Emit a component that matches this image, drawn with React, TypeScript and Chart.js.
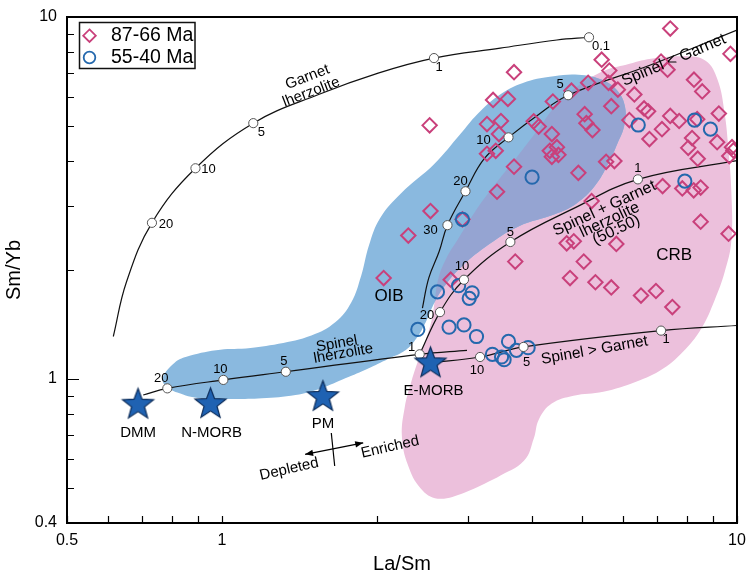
import React, { useEffect, useRef } from 'react';
import { Chart, registerables } from 'chart.js';

Chart.register(...registerables);

const FONT = '"Liberation Sans", Arial, Helvetica, sans-serif';

// ---------- axis tick labels ----------
const X_TICK_LABELS = [0.5, 1, 10];
const Y_TICK_LABELS = [0.4, 1, 10];

// ---------- samples [La/Sm, Sm/Yb] ----------
const SAMPLES_87_66 = [
  [7.42, 9.29], [9.71, 7.91], [5.46, 7.62], [3.69, 7.04], [2.53, 5.02], [3.36, 5.90], [3.59, 5.94],
  [4.39, 5.84], [4.77, 6.26], [5.14, 6.58], [5.65, 7.11], [5.63, 6.58], [5.87, 6.30], [6.32, 6.11],
  [5.70, 5.67], [5.06, 5.39], [5.10, 5.09], [5.24, 4.87], [6.60, 5.59], [6.72, 5.49], [7.12, 7.53],
  [7.33, 7.15], [8.25, 6.71], [8.56, 6.23], [6.18, 5.19], [7.42, 5.33], [7.72, 5.16], [7.15, 4.90],
  [8.37, 5.22], [9.22, 5.41], [6.76, 4.60], [8.18, 4.63], [8.04, 4.35], [9.15, 4.51], [9.78, 4.37],
  [9.84, 4.28], [9.66, 4.13], [4.37, 4.75], [4.47, 4.37], [4.50, 4.16], [4.37, 4.11], [4.33, 4.27],
  [5.57, 3.98], [5.78, 4.00], [8.39, 4.06], [3.48, 5.16], [3.27, 5.06], [3.45, 4.75], [3.27, 4.19],
  [3.40, 4.27], [4.03, 5.15], [4.12, 4.98], [3.69, 3.86], [3.42, 3.29], [2.54, 2.91], [2.30, 2.49],
  [2.93, 2.76], [2.06, 1.90], [3.71, 2.11], [2.78, 1.88], [4.92, 3.71], [7.17, 3.41], [7.83, 3.36],
  [8.24, 3.32], [8.50, 3.38], [5.22, 3.10], [8.50, 2.72], [9.63, 2.52], [4.67, 2.37], [4.82, 2.40],
  [5.83, 2.36], [5.04, 2.11], [4.74, 1.90], [5.31, 1.85], [5.70, 1.79], [6.51, 1.70], [6.96, 1.75],
  [7.49, 1.58],
];

const SAMPLES_55_40 = [
  [4.00, 3.61], [2.93, 2.76], [2.62, 1.74], [2.88, 1.81], [3.06, 1.73], [3.02, 1.67], [2.40, 1.37],
  [2.76, 1.39], [2.95, 1.41], [3.12, 1.31], [3.35, 1.17], [3.49, 1.15], [3.53, 1.13], [3.60, 1.27],
  [3.73, 1.20], [3.93, 1.22], [6.43, 5.03], [8.27, 5.19], [8.88, 4.90], [7.92, 3.52],
];

// ---------- mantle reservoirs ----------
const RESERVOIR_NAMES = ['DMM', 'N-MORB', 'PM', 'E-MORB'];
const RESERVOIR_VALUES = [[0.687, 0.857], [0.95, 0.86], [1.57, 0.90], [2.54, 1.115]];

// ---------- melting curves ----------
const GARNET_LHZ_CURVE = [
  [0.615, 1.31], [0.652, 1.85], [0.731, 2.70], [0.888, 3.82], [1.15, 5.09], [1.54, 6.11],
  [2.01, 7.0], [2.58, 7.70], [3.47, 8.20], [4.47, 8.64], [5.16, 8.79],
];
const SPINEL_LHZ_CURVE = [[0.703, 0.903], [0.783, 0.942], [1.006, 0.994], [1.33, 1.047], [2.42, 1.17], [2.99, 1.20]];
const SPL_LT_GRT_CURVE = [
  [2.45, 1.57], [2.52, 1.90], [2.64, 2.25], [2.74, 2.66], [2.97, 3.30], [3.23, 4.06], [3.60, 4.65],
  [4.12, 5.38], [4.70, 6.08], [6.81, 7.38], [10, 9.2],
];
const SPL_GRT_5050_CURVE = [[2.42, 1.17], [2.65, 1.53], [2.95, 1.88], [3.63, 2.39], [4.82, 2.96], [6.42, 3.56], [10, 4.01]];
const SPL_GT_GRT_CURVE = [[2.54, 1.108], [3.17, 1.15], [3.85, 1.226], [7.12, 1.36], [10, 1.405]];

// ---------- melt fractions (%) marked on the curves ----------
const GARNET_LHZ_F = [[0.731, 2.70], [0.888, 3.82], [1.15, 5.09], [2.58, 7.70], [5.16, 8.79]];
const GARNET_LHZ_F_TEXT = ['20', '10', '5', '1', '0.1'];
const SPINEL_LHZ_F = [[0.783, 0.942], [1.006, 0.994], [1.33, 1.047], [2.42, 1.17]];
const SPINEL_LHZ_F_TEXT = ['20', '10', '5', '1'];
const SPL_LT_GRT_F = [[2.74, 2.66], [2.97, 3.30], [3.60, 4.65], [4.70, 6.08]];
const SPL_LT_GRT_F_TEXT = ['30', '20', '10', '5'];
const SPL_GRT_5050_F = [[2.65, 1.53], [2.95, 1.88], [3.63, 2.39], [6.42, 3.56]];
const SPL_GRT_5050_F_TEXT = ['20', '10', '5', '1'];
const SPL_GT_GRT_F = [[3.17, 1.15], [3.85, 1.226], [7.12, 1.36]];
const SPL_GT_GRT_F_TEXT = ['10', '5', '1'];

// ---------- fields ----------
const OIB_FIELD = [
  [1.113, 1.213], [1.288, 1.251], [1.491, 1.319], [1.659, 1.435], [1.782, 1.627], [1.863, 1.928],
  [1.930, 2.344], [2.027, 2.780], [2.225, 3.254], [2.586, 3.930], [2.903, 4.748], [3.131, 5.386],
  [3.467, 6.107], [3.909, 6.631], [4.406, 6.865], [4.923, 6.930], [5.452, 6.715], [5.853, 6.262],
  [6.064, 5.627], [6.037, 4.994], [5.853, 4.458], [5.624, 3.930], [5.285, 3.401], [4.879, 3.055],
  [4.426, 2.851], [3.772, 2.643], [3.244, 2.315], [2.890, 2.015], [2.692, 1.788], [2.586, 1.627],
  [2.486, 1.435], [2.388, 1.297], [2.275, 1.203], [2.100, 1.136], [1.922, 1.069], [1.735, 1.004],
  [1.559, 0.943], [1.389, 0.903], [1.195, 0.884], [1.032, 0.880], [0.904, 0.884], [0.819, 0.917],
  [0.777, 0.958], [0.767, 1.008], [0.809, 1.108], [0.853, 1.151], [0.974, 1.200], [1.113, 1.213],
];
const CRB_FIELD = [
  [3.421, 0.534], [2.955, 0.485], [2.621, 0.467], [2.431, 0.498], [2.295, 0.579], [2.235, 0.695],
  [2.265, 0.839], [2.326, 0.971], [2.399, 1.115], [2.486, 1.281], [2.553, 1.453], [2.586, 1.627],
  [2.633, 1.904], [2.728, 2.160], [2.865, 2.419], [3.131, 2.961], [3.421, 3.509], [3.739, 4.107],
  [4.086, 4.839], [4.466, 5.734], [4.945, 6.501], [5.524, 7.107], [6.091, 7.380], [6.807, 7.665],
  [7.880, 7.786], [8.690, 7.569], [9.165, 6.715], [9.455, 5.454], [9.621, 4.320], [9.750, 3.294],
  [9.750, 2.404], [9.455, 1.965], [9.044, 1.648], [8.536, 1.382], [7.950, 1.210], [7.179, 1.067],
  [6.368, 0.983], [5.500, 0.922], [4.815, 0.899], [4.367, 0.855], [4.123, 0.773], [4.032, 0.686],
  [3.857, 0.594], [3.421, 0.534],
];

// ---------- annotation layout (pixel offsets, angles, sizes) ----------
const MELT_GROUPS = [
  { marks: GARNET_LHZ_F, texts: GARNET_LHZ_F_TEXT, offsets: [[14, 2], [13, 1], [8, 9], [5, 9], [12, 9]] },
  { marks: SPINEL_LHZ_F, texts: SPINEL_LHZ_F_TEXT, offsets: [[-6, -10], [-3, -10], [-2, -10], [-8, -7]] },
  { marks: SPL_LT_GRT_F, texts: SPL_LT_GRT_F_TEXT, offsets: [[-17, 5], [-5, -10], [-25, 3], [-8, -11]] },
  { marks: SPL_GRT_5050_F, texts: SPL_GRT_5050_F_TEXT, offsets: [[-13, 3], [-2, -13], [0, -10], [0, -11]] },
  { marks: SPL_GT_GRT_F, texts: SPL_GT_GRT_F_TEXT, offsets: [[-3, 13], [3, 15], [5, 9]] },
];
const RESERVOIR_LABEL_OFFSETS = [[0, 30], [1, 30], [0, 28], [3, 29]];

const TEXT_NOTES = [
  { text: 'Garnet', at: [1.465, 6.82], size: 15, angle: -21 },
  { text: 'lherzolite', at: [1.49, 6.2], size: 15, angle: -21 },
  { text: 'Spinel < Garnet', at: [7.54, 7.6], size: 16, angle: -23 },
  { text: 'Spinel + Garnet', at: [5.53, 2.96], size: 16, angle: -25 },
  { text: 'lherzolite', at: [5.66, 2.75], size: 16, angle: -25 },
  { text: '(50:50)', at: [5.83, 2.58], size: 16, angle: -25 },
  { text: 'Spinel', at: [1.67, 1.25], size: 15, angle: -10 },
  { text: 'lherzolite', at: [1.72, 1.175], size: 15, angle: -10 },
  { text: 'Spinel > Garnet', at: [5.29, 1.2], size: 15.5, angle: -10 },
  { text: 'OIB', at: [2.11, 1.69], size: 17, angle: 0 },
  { text: 'CRB', at: [7.55, 2.2], size: 17, angle: 0 },
  { text: 'Depleted', at: [1.35, 0.563], size: 15, angle: -13 },
  { text: 'Enriched', at: [2.12, 0.648], size: 15, angle: -13 },
];
const TREND_ARROW = { from: [1.45, 0.619], to: [1.88, 0.666] };
const TREND_DIVIDER = { from: [1.63, 0.709], to: [1.655, 0.575] };

// ---------- colours ----------
const DIAMOND_COLOR = '#c9407b';
const CIRCLE_COLOR = '#2468ad';
const OIB_COLOR = '#8ab9df';
const CRB_COLOR = '#ecc0dc';
const OVERLAP_COLOR = '#95a4d2';

const pts = (a: number[][]) => a.map(([x, y]) => ({ x, y }));

function makeStar(r: number, fill: string, stroke: string) {
  const c = document.createElement('canvas');
  const s = Math.ceil(r * 2 + 4);
  c.width = s;
  c.height = s;
  const g = c.getContext('2d')!;
  g.beginPath();
  for (let i = 0; i < 10; i++) {
    const ang = -Math.PI / 2 + (i * Math.PI) / 5;
    const rr = i % 2 === 0 ? r : r * 0.42;
    const px = s / 2 + rr * Math.cos(ang);
    const py = s / 2 + 1.5 + rr * Math.sin(ang);
    if (i === 0) g.moveTo(px, py);
    else g.lineTo(px, py);
  }
  g.closePath();
  g.fillStyle = fill;
  g.fill();
  g.lineWidth = 1.2;
  g.strokeStyle = stroke;
  g.stroke();
  return c;
}

const tickFormatter = (allowed: number[]) => (v: any) => {
  const n = Number(v);
  return allowed.some((a) => Math.abs(a - n) < 1e-9) ? String(n) : '';
};

const isWholeSignificand = (v: number) => {
  const e = Math.floor(Math.log10(v) + 1e-9);
  const m = v / Math.pow(10, e);
  return Math.abs(m - Math.round(m)) < 1e-6;
};

const zeroPadding = (s: any) => {
  s.paddingTop = 0;
  s.paddingBottom = 0;
  s.paddingLeft = 0;
  s.paddingRight = 0;
};

const OIB_INDEX = 9;
const CRB_INDEX = 10;

const overlapPlugin = {
  id: 'overlap',
  afterDatasetDraw(chart: any, args: any) {
    if (args.index !== OIB_INDEX) return;
    const ctx = chart.ctx;
    const crb = chart.getDatasetMeta(CRB_INDEX).dataset;
    const oib = chart.getDatasetMeta(OIB_INDEX).dataset;
    if (!crb || !oib) return;
    ctx.save();
    const a = chart.chartArea;
    ctx.beginPath();
    ctx.rect(a.left, a.top, a.right - a.left, a.bottom - a.top);
    ctx.clip();
    ctx.beginPath();
    crb.path(ctx);
    ctx.closePath();
    ctx.clip();
    ctx.beginPath();
    oib.path(ctx);
    ctx.closePath();
    ctx.fillStyle = OVERLAP_COLOR;
    ctx.fill();
    ctx.restore();
  },
};

const annotationPlugin = {
  id: 'annotations',
  afterDatasetsDraw(chart: any) {
    const { ctx } = chart;
    const sx = chart.scales.x;
    const sy = chart.scales.y;
    const px = (v: number) => sx.getPixelForValue(v);
    const py = (v: number) => sy.getPixelForValue(v);
    ctx.save();
    ctx.fillStyle = '#000';
    ctx.strokeStyle = '#000';
    ctx.textAlign = 'center';
    ctx.textBaseline = 'middle';

    for (const n of TEXT_NOTES) {
      ctx.save();
      ctx.translate(px(n.at[0]), py(n.at[1]));
      ctx.rotate((n.angle * Math.PI) / 180);
      ctx.font = `${n.size}px ${FONT}`;
      ctx.fillText(n.text, 0, 0);
      ctx.restore();
    }

    ctx.font = `13px ${FONT}`;
    for (const g of MELT_GROUPS) {
      g.marks.forEach((m, i) => {
        const [dx, dy] = g.offsets[i];
        ctx.fillText(g.texts[i], px(m[0]) + dx, py(m[1]) + dy);
      });
    }

    ctx.font = `15px ${FONT}`;
    RESERVOIR_VALUES.forEach((v, i) => {
      const [dx, dy] = RESERVOIR_LABEL_OFFSETS[i];
      ctx.fillText(RESERVOIR_NAMES[i], px(v[0]) + dx, py(v[1]) + dy);
    });

    // depleted / enriched arrow
    const ax1 = px(TREND_ARROW.from[0]), ay1 = py(TREND_ARROW.from[1]);
    const ax2 = px(TREND_ARROW.to[0]), ay2 = py(TREND_ARROW.to[1]);
    ctx.lineWidth = 1.2;
    ctx.beginPath();
    ctx.moveTo(ax1, ay1);
    ctx.lineTo(ax2, ay2);
    ctx.stroke();
    const head = (x: number, y: number, ang: number) => {
      const L = 8, W = 3.2;
      const ux = Math.cos(ang), uy = Math.sin(ang);
      ctx.beginPath();
      ctx.moveTo(x, y);
      ctx.lineTo(x - L * ux - W * uy, y - L * uy + W * ux);
      ctx.lineTo(x - L * ux + W * uy, y - L * uy - W * ux);
      ctx.closePath();
      ctx.fill();
    };
    const ang = Math.atan2(ay2 - ay1, ax2 - ax1);
    head(ax2, ay2, ang);
    head(ax1, ay1, ang + Math.PI);
    ctx.beginPath();
    ctx.moveTo(px(TREND_DIVIDER.from[0]), py(TREND_DIVIDER.from[1]));
    ctx.lineTo(px(TREND_DIVIDER.to[0]), py(TREND_DIVIDER.to[1]));
    ctx.stroke();
    ctx.restore();
  },
  afterDraw(chart: any) {
    const { ctx, chartArea: a } = chart;
    const sx = chart.scales.x;
    const sy = chart.scales.y;
    ctx.save();
    ctx.strokeStyle = '#000';
    ctx.lineWidth = 1.2;
    ctx.beginPath();
    for (const t of sx.ticks) {
      if (!isWholeSignificand(t.value)) continue;
      const x = Math.round(sx.getPixelForValue(t.value)) + 0.5;
      ctx.moveTo(x, a.bottom);
      ctx.lineTo(x, a.bottom - 7);
    }
    for (const t of sy.ticks) {
      if (!isWholeSignificand(t.value)) continue;
      const y = Math.round(sy.getPixelForValue(t.value)) + 0.5;
      const len = Math.abs(t.value - 1) < 1e-9 ? 12 : 7;
      ctx.moveTo(a.left, y);
      ctx.lineTo(a.left + len, y);
    }
    ctx.stroke();
    ctx.lineWidth = 2;
    ctx.strokeRect(a.left, a.top, a.right - a.left, a.bottom - a.top);

    // legend
    const lx = a.left + 12.5;
    const ly = a.top + 5.5;
    ctx.fillStyle = '#fff';
    ctx.fillRect(lx, ly, 115.5, 46);
    ctx.lineWidth = 1.5;
    ctx.strokeStyle = '#111';
    ctx.strokeRect(lx, ly, 115.5, 46);
    const cx = lx + 10;
    let cy = ly + 13.2;
    const r = 6.3;
    ctx.lineWidth = 1.8;
    ctx.strokeStyle = DIAMOND_COLOR;
    ctx.beginPath();
    ctx.moveTo(cx, cy - r);
    ctx.lineTo(cx + r, cy);
    ctx.lineTo(cx, cy + r);
    ctx.lineTo(cx - r, cy);
    ctx.closePath();
    ctx.stroke();
    cy = ly + 35;
    ctx.strokeStyle = CIRCLE_COLOR;
    ctx.beginPath();
    ctx.arc(cx, cy, 5.8, 0, Math.PI * 2);
    ctx.stroke();
    ctx.fillStyle = '#000';
    ctx.font = `19.5px ${FONT}`;
    ctx.textAlign = 'left';
    ctx.textBaseline = 'middle';
    ctx.fillText('87-66 Ma', lx + 31.5, ly + 13.5);
    ctx.fillText('55-40 Ma', lx + 31.5, ly + 35.3);
    ctx.restore();
  },
};

export default function App() {
  const ref = useRef<HTMLCanvasElement>(null);

  useEffect(() => {
    const canvas = ref.current!;
    const star = makeStar(16.3, '#1f62b2', '#0b2b58');
    const curve = (data: number[][]) => ({
      type: 'line' as const,
      data: pts(data),
      borderColor: '#111',
      borderWidth: 1.2,
      pointRadius: 0,
      tension: 0.4,
      fill: false,
    });
    const field = (data: number[][], color: string) => ({
      type: 'line' as const,
      data: pts(data),
      backgroundColor: color,
      borderColor: 'rgba(0,0,0,0)',
      borderWidth: 0,
      pointRadius: 0,
      tension: 0.4,
      fill: 'shape',
    });
    const meltMarks = [...GARNET_LHZ_F, ...SPINEL_LHZ_F, ...SPL_LT_GRT_F, ...SPL_GRT_5050_F, ...SPL_GT_GRT_F];

    const chart = new Chart(canvas, {
      type: 'scatter',
      data: {
        datasets: [
          {
            label: 'reservoirs',
            data: pts(RESERVOIR_VALUES),
            pointStyle: star as any,
            pointRadius: 16,
          },
          {
            label: 'melt fraction',
            data: pts(meltMarks),
            pointStyle: 'circle',
            pointRadius: 4.6,
            pointBackgroundColor: '#ffffff',
            pointBorderColor: '#555555',
            pointBorderWidth: 1,
          },
          {
            label: '55-40 Ma',
            data: pts(SAMPLES_55_40),
            pointStyle: 'circle',
            pointRadius: 6.6,
            pointBackgroundColor: 'rgba(0,0,0,0)',
            pointBorderColor: CIRCLE_COLOR,
            pointBorderWidth: 2,
          },
          {
            label: '87-66 Ma',
            data: pts(SAMPLES_87_66),
            pointStyle: 'rectRot',
            pointRadius: 7.2,
            pointBackgroundColor: 'rgba(0,0,0,0)',
            pointBorderColor: DIAMOND_COLOR,
            pointBorderWidth: 2,
          },
          curve(GARNET_LHZ_CURVE),
          curve(SPINEL_LHZ_CURVE),
          curve(SPL_LT_GRT_CURVE),
          curve(SPL_GRT_5050_CURVE),
          curve(SPL_GT_GRT_CURVE),
          field(OIB_FIELD, OIB_COLOR),
          field(CRB_FIELD, CRB_COLOR),
        ] as any,
      },
      options: {
        responsive: false,
        animation: false,
        devicePixelRatio: 1,
        events: [],
        layout: { padding: { left: 0, top: 12, right: 12, bottom: 0 } },
        plugins: { legend: { display: false }, tooltip: { enabled: false } },
        scales: {
          x: {
            type: 'logarithmic',
            position: 'bottom',
            min: 0.5,
            max: 10,
            afterFit: (s: any) => {
              s.height = 54;
              zeroPadding(s);
            },
            grid: { display: false, drawTicks: false },
            border: { display: false },
            ticks: {
              autoSkip: false,
              maxRotation: 0,
              padding: 8,
              color: '#000',
              font: { family: FONT, size: 16 },
              callback: tickFormatter(X_TICK_LABELS),
            },
            title: {
              display: true,
              text: 'La/Sm',
              color: '#000',
              font: { family: FONT, size: 20 },
              padding: { top: 0, bottom: 1 },
            },
          },
          y: {
            type: 'logarithmic',
            position: 'left',
            min: 0.4,
            max: 10,
            afterFit: (s: any) => {
              s.width = 67;
              zeroPadding(s);
            },
            grid: { display: false, drawTicks: false },
            border: { display: false },
            ticks: {
              autoSkip: false,
              padding: 10,
              color: '#000',
              font: { family: FONT, size: 16 },
              callback: tickFormatter(Y_TICK_LABELS),
            },
            title: {
              display: true,
              text: 'Sm/Yb',
              color: '#000',
              font: { family: FONT, size: 20 },
              padding: { top: 2, bottom: 0 },
            },
          },
        },
      } as any,
      plugins: [overlapPlugin, annotationPlugin],
    });
    return () => chart.destroy();
  }, []);

  return (
    <div style={{ position: 'absolute', left: 0, top: 0, width: 754, height: 577, background: '#fff' }}>
      <canvas ref={ref} width={754} height={577} style={{ display: 'block', width: 754, height: 577 }} />
    </div>
  );
}
